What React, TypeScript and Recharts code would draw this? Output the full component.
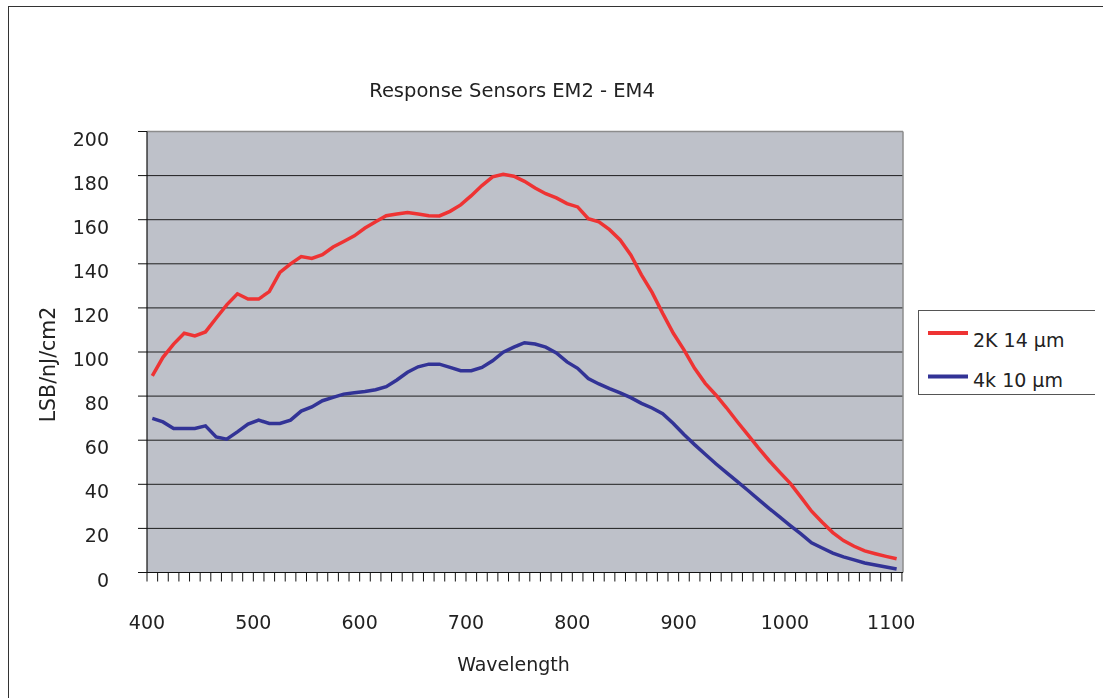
import React from 'react';
import { LineChart, Line, XAxis, YAxis, CartesianGrid, Legend, ReferenceLine } from 'recharts';

const wavelengths = [
  405, 415, 425, 435, 445, 455, 465, 475, 485, 495,
  505, 515, 525, 535, 545, 555, 565, 575, 585, 595,
  605, 615, 625, 635, 645, 655, 665, 675, 685, 695,
  705, 715, 725, 735, 745, 755, 765, 775, 785, 795,
  805, 815, 825, 835, 845, 855, 865, 875, 885, 895,
  905, 915, 925, 935, 945, 955, 965, 975, 985, 995,
  1005, 1015, 1025, 1035, 1045, 1055, 1065, 1075, 1085, 1095,
  1105,
];

const sensor2K = [
  89.2, 97.6, 103.6, 108.5, 107.3, 109.1, 115.3, 121.4, 126.4, 124.0,
  124.0, 127.4, 136.1, 140.0, 143.3, 142.4, 144.1, 147.6, 150.1, 152.7,
  156.2, 159.1, 161.8, 162.6, 163.3, 162.6, 161.8, 161.7, 163.8, 166.7,
  170.9, 175.5, 179.4, 180.6, 179.7, 177.4, 174.4, 171.8, 169.9, 167.3,
  165.8, 160.5, 159.0, 155.5, 150.8, 144.0, 135.0, 127.0, 117.5, 108.5,
  101.0, 92.6, 85.8, 80.5, 74.7, 68.5, 62.5, 56.5, 50.8, 45.5,
  40.4, 34.2, 27.8, 22.8, 18.1, 14.5, 11.9, 9.8, 8.5, 7.3,
  6.2,
];

const sensor4k = [
  69.9, 68.3, 65.3, 65.3, 65.3, 66.5, 61.5, 60.5, 63.8, 67.3,
  69.1, 67.6, 67.6, 69.1, 73.2, 75.1, 77.9, 79.4, 80.9, 81.5,
  82.1, 82.9, 84.3, 87.3, 90.8, 93.3, 94.5, 94.5, 93.0, 91.5,
  91.5, 93.0, 96.0, 99.9, 102.2, 104.2, 103.6, 102.2, 99.6, 95.5,
  92.6, 88.0, 85.5, 83.4, 81.5, 79.3, 76.7, 74.6, 72.0, 67.6,
  62.6, 58.0, 53.6, 49.3, 45.3, 41.3, 37.3, 33.2, 29.1, 25.2,
  21.3, 17.5, 13.5, 11.1, 8.8, 7.1, 5.7, 4.3, 3.4, 2.5,
  1.6,
];

const xLabelTicks = [400, 500, 600, 700, 800, 900, 1000, 1100];
const xMinorTicks = [
  400, 410, 420, 430, 440, 450, 460, 470, 480, 490,
  500, 510, 520, 530, 540, 550, 560, 570, 580, 590,
  600, 610, 620, 630, 640, 650, 660, 670, 680, 690,
  700, 710, 720, 730, 740, 750, 760, 770, 780, 790,
  800, 810, 820, 830, 840, 850, 860, 870, 880, 890,
  900, 910, 920, 930, 940, 950, 960, 970, 980, 990,
  1000, 1010, 1020, 1030, 1040, 1050, 1060, 1070, 1080, 1090,
  1100, 1110,
];
const yTicks = [0, 20, 40, 60, 80, 100, 120, 140, 160, 180, 200];

const seriesNames = ['2K 14 µm', '4k 10 µm'];
const seriesColors = ['#EE3333', '#323396'];

const data = wavelengths.map((w, i) => ({ w, s2k: sensor2K[i], s4k: sensor4k[i] }));

const FONT = '"DejaVu Sans", "Liberation Sans", Arial, sans-serif';
const TEXT = '#222';

const XTick = (props: any) => {
  const { x, y, payload } = props;
  if (!xLabelTicks.includes(payload.value)) return null;
  return (
    <text x={x} y={y + 47.5} textAnchor="middle" fontFamily={FONT} fontSize={19} fill={TEXT}>
      {payload.value}
    </text>
  );
};

const YTick = (props: any) => {
  const { x, y, payload } = props;
  return (
    <text x={x} y={y + 14} textAnchor="end" fontFamily={FONT} fontSize={19} fill={TEXT}>
      {payload.value}
    </text>
  );
};

const LegendBox = () => (
  <svg width={182} height={85} style={{ display: 'block' }}>
    <rect x={0.5} y={0.5} width={181} height={84} fill="#fff" stroke="#555" strokeWidth={1} />
    {seriesNames.map((name, i) => (
      <g key={name}>
        <line x1={10} x2={50} y1={23 + i * 43.5} y2={23 + i * 43.5} stroke={seriesColors[i]} strokeWidth={4} />
        <text x={55} y={37 + i * 40} fontFamily={FONT} fontSize={19} fill={TEXT}>
          {name}
        </text>
      </g>
    ))}
  </svg>
);

export default function App() {
  return (
    <div style={{ position: 'relative', top: -2, width: 1095, height: 692 }}>
      <div
        style={{
          position: 'fixed',
          left: 8,
          top: 6,
          width: 1200,
          height: 800,
          borderLeft: '1px solid #333',
          borderTop: '1px solid #333',
          boxSizing: 'border-box',
          pointerEvents: 'none',
        }}
      />
      <svg
        width={1095}
        height={692}
        style={{ position: 'absolute', left: 0, top: 0, pointerEvents: 'none' }}
      >
        <text x={504} y={91.3} textAnchor="middle" fontFamily={FONT} fontSize={19.5} fill={TEXT}>
          Response Sensors EM2 - EM4
        </text>
        <text x={505.5} y={665} textAnchor="middle" fontFamily={FONT} fontSize={19} fill={TEXT}>
          Wavelength
        </text>
        <text
          x={47}
          y={358.5}
          textAnchor="middle"
          fontFamily={FONT}
          fontSize={20.5}
          fill={TEXT}
          transform="rotate(-90 47 358.5)"
        >
          LSB/nJ/cm2
        </text>
      </svg>
      <div style={{ position: 'absolute', left: 0, top: 0 }}>
        <LineChart
          width={1095}
          height={692}
          data={data}
          margin={{ top: 125.5, left: 79, right: 200, bottom: 85.5 }}
        >
          <CartesianGrid vertical={false} fill="#BEC1C9" stroke="#1e1e1e" strokeWidth={1} />
          <XAxis
            dataKey="w"
            type="number"
            domain={[400, 1111]}
            ticks={xMinorTicks}
            interval={0}
            height={40}
            tickSize={9}
            tickMargin={0}
            tick={<XTick />}
            axisLine={{ stroke: '#111', strokeWidth: 1.2 }}
            tickLine={{ stroke: '#111' }}
            allowDataOverflow
          />
          <YAxis
            type="number"
            domain={[0, 200]}
            ticks={yTicks}
            interval={0}
            width={60}
            tickSize={9}
            tickMargin={29}
            tick={<YTick />}
            axisLine={{ stroke: '#111', strokeWidth: 1.2 }}
            tickLine={{ stroke: '#111' }}
          />
          <ReferenceLine y={200} stroke="#8c8c8c" strokeWidth={1.5} />
          <ReferenceLine x={1111} stroke="#8c8c8c" strokeWidth={1.5} />
          <Legend
            layout="vertical"
            align="center"
            verticalAlign="middle"
            content={<LegendBox />}
            wrapperStyle={{ position: 'absolute', left: 910, top: 304, width: 182, height: 85 }}
          />
          <Line
            type="linear"
            dataKey="s2k"
            name={seriesNames[0]}
            stroke={seriesColors[0]}
            strokeWidth={3.5}
            dot={false}
            isAnimationActive={false}
          />
          <Line
            type="linear"
            dataKey="s4k"
            name={seriesNames[1]}
            stroke={seriesColors[1]}
            strokeWidth={3.5}
            dot={false}
            isAnimationActive={false}
          />
        </LineChart>
      </div>
    </div>
  );
}
